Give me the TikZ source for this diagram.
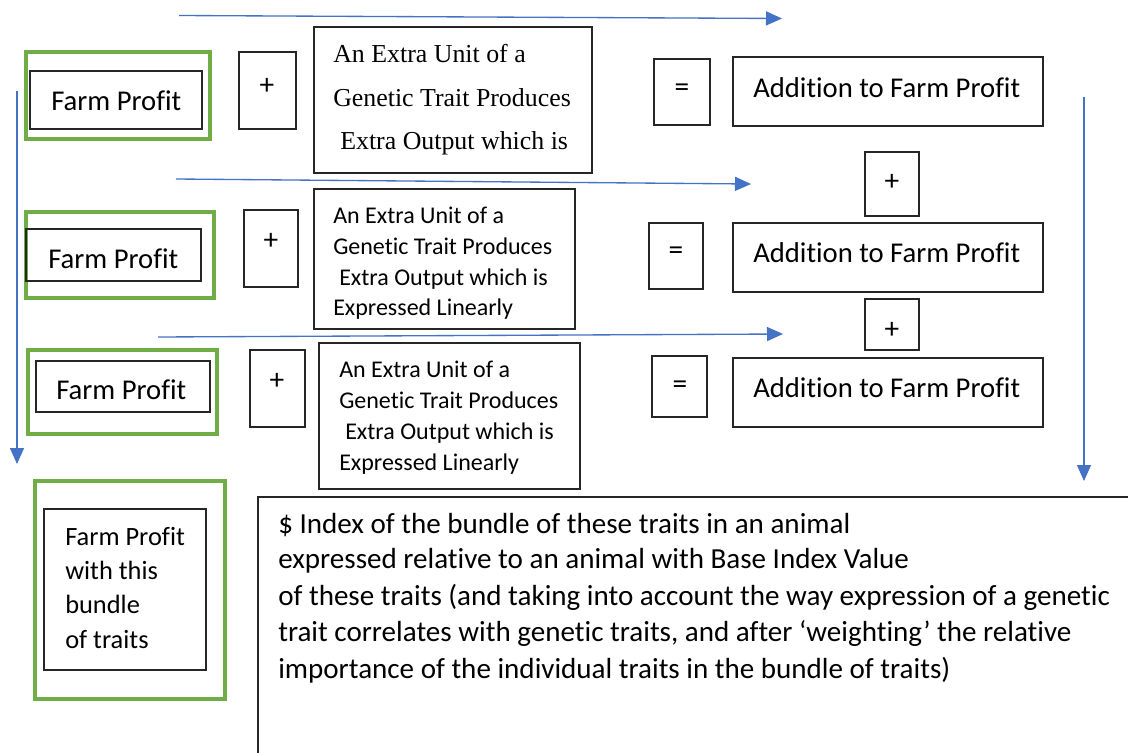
\documentclass[tikz,border=0pt]{standalone}
\usepackage{fontspec}
\setmainfont{Carlito}[Ligatures=NoCommon]
\newfontfamily\cambriaish{Liberation Serif}
\usetikzlibrary{arrows.meta,fit}
\definecolor{arrowblue}{HTML}{4472C4}
\definecolor{framegreen}{HTML}{70AD47}
\definecolor{boxline}{HTML}{262626}
\begin{document}
\begin{tikzpicture}[x=0.75pt,y=-0.75pt,
  blackbox/.style={draw=boxline,line width=1.2pt,inner sep=0pt},
  greenbox/.style={draw=framegreen,line width=2.5pt,inner sep=0pt},
  flow/.style={draw=arrowblue,line width=1pt,-{Triangle[length=12pt,width=10.5pt]}},
  txt/.style={anchor=base west,inner sep=0pt},
  bigtxt/.style={txt,font=\fontsize{21.5}{26}\selectfont},
  midtxt/.style={txt,font=\fontsize{18}{22}\selectfont},
  sertxt/.style={txt,font=\cambriaish\fontsize{19.4}{24}\selectfont},
  bndtxt/.style={txt,font=\fontsize{19.8}{24}\selectfont},
  idxtxt/.style={txt,font=\fontsize{21.8}{26}\selectfont},
  sym/.style={inner sep=0pt,font=\fontsize{22}{26}\selectfont}
]
\useasboundingbox (0,0) rectangle (1128,753);
\fill[white] (0,0) rectangle (1128,753);

% ---------- row 1 ----------
\node[greenbox,fit={(26,52) (210,139)}] (g1) {};
\node[blackbox,fit={(30,71) (202,129)}] (fp1) {};
\node[bigtxt] (fp1t) at (51,110) {Farm Profit};
\node[blackbox,fit={(239,52) (296,129)}] (p1) {};
\node[sym] (p1s) at (267,86) {+};
\node[blackbox,fit={(314,27) (592,173)}] (e1) {};
\node[sertxt] (e1a) at (333,62) {An Extra Unit of a};
\node[sertxt] (e1b) at (333,106) {Genetic Trait Produces};
\node[sertxt] (e1c) at (340,149) {Extra Output which is};
\node[blackbox,fit={(654,59) (710,125)}] (q1) {};
\node[sym] (q1s) at (682,90) {=};
\node[blackbox,fit={(733,57) (1043,126)}] (a1) {};
\node[bigtxt] (a1t) at (753,97) {Addition to Farm Profit};

% ---------- row 2 ----------
\node[blackbox,fit={(865,152) (919,216)}] (r1) {};
\node[sym] (r1s) at (892,182) {+};
\node[greenbox,fit={(26,212) (214,298)}] (g2) {};
\node[blackbox,fit={(26,229) (201,281)}] (fp2) {};
\node[bigtxt] (fp2t) at (48,268) {Farm Profit};
\node[blackbox,fit={(244,210) (298,287)}] (p2) {};
\node[sym] (p2s) at (271,241) {+};
\node[blackbox,fit={(314,189) (575,329)}] (e2) {};
\node[midtxt] (e2a) at (333,223) {An Extra Unit of a};
\node[midtxt] (e2b) at (333,254) {Genetic Trait Produces};
\node[midtxt] (e2c) at (339,285) {Extra Output which is};
\node[midtxt] (e2d) at (333,315) {Expressed Linearly};
\node[blackbox,fit={(649,223) (703,289)}] (q2) {};
\node[sym] (q2s) at (676,253) {=};
\node[blackbox,fit={(733,223) (1043,292)}] (a2) {};
\node[bigtxt] (a2t) at (753,262) {Addition to Farm Profit};

% ---------- row 3 ----------
\node[blackbox,fit={(865,299) (919,350)}] (r2) {};
\node[sym] (r2s) at (892,330) {+};
\node[greenbox,fit={(28,350) (217,434)}] (g3) {};
\node[blackbox,fit={(36,361) (210,412)}] (fp3) {};
\node[bigtxt] (fp3t) at (56,399) {Farm Profit};
\node[blackbox,fit={(250,350) (305,427)}] (p3) {};
\node[sym] (p3s) at (277,381) {+};
\node[blackbox,fit={(319,343) (580,489)}] (e3) {};
\node[midtxt] (e3a) at (339,377) {An Extra Unit of a};
\node[midtxt] (e3b) at (339,408) {Genetic Trait Produces};
\node[midtxt] (e3c) at (345,439) {Extra Output which is};
\node[midtxt] (e3d) at (339,470) {Expressed Linearly};
\node[blackbox,fit={(652,356) (707,417)}] (q3) {};
\node[sym] (q3s) at (680,387) {=};
\node[blackbox,fit={(733,358) (1043,427)}] (a3) {};
\node[bigtxt] (a3t) at (753,397) {Addition to Farm Profit};

% ---------- row 4 ----------
\node[greenbox,fit={(35,481) (225,699)}] (g4) {};
\node[blackbox,fit={(44,509) (206,670)}] (fp4) {};
\node[bndtxt] (fp4a) at (65,545) {Farm Profit};
\node[bndtxt] (fp4b) at (65,579) {with this};
\node[bndtxt] (fp4c) at (65,613) {bundle};
\node[bndtxt] (fp4d) at (65,648) {of traits};

\coordinate (ixtl) at (258,497);
\coordinate (ixtr) at (1128,497);
\coordinate (ixbl) at (258,753);
\draw[boxline,line width=1.2pt] (ixbl) -- (ixtl) -- (ixtr);
\node[idxtxt] (ix1) at (278,533) {\$ Index of the bundle of these traits in an animal};
\node[idxtxt] (ix2) at (278,568) {expressed relative to an animal with Base Index Value};
\node[idxtxt] (ix3) at (278,605) {of these traits (and taking into account the way expression of a genetic};
\node[idxtxt] (ix4) at (278,641) {trait correlates with genetic traits, and after ‘weighting’ the relative};
\node[idxtxt] (ix5) at (278,678) {importance of the individual traits in the bundle of traits)};

% ---------- arrows ----------
\coordinate (t1s) at (179,15.5);
\coordinate (t1e) at (782,18.5);
\coordinate (t2s) at (176,179);
\coordinate (t2e) at (751,184);
\coordinate (t3s) at (158,337);
\coordinate (t3e) at (783,334);
\coordinate (ls) at (17,91);
\coordinate (le) at (17,464);
\coordinate (rs) at (1084,97);
\coordinate (re) at (1084,481);
\draw[flow] (t1s) -- (t1e);
\draw[flow] (t2s) -- (t2e);
\draw[flow] (t3s) -- (t3e);
\draw[flow] (ls) -- (le);
\draw[flow] (rs) -- (re);
\end{tikzpicture}
\end{document}
